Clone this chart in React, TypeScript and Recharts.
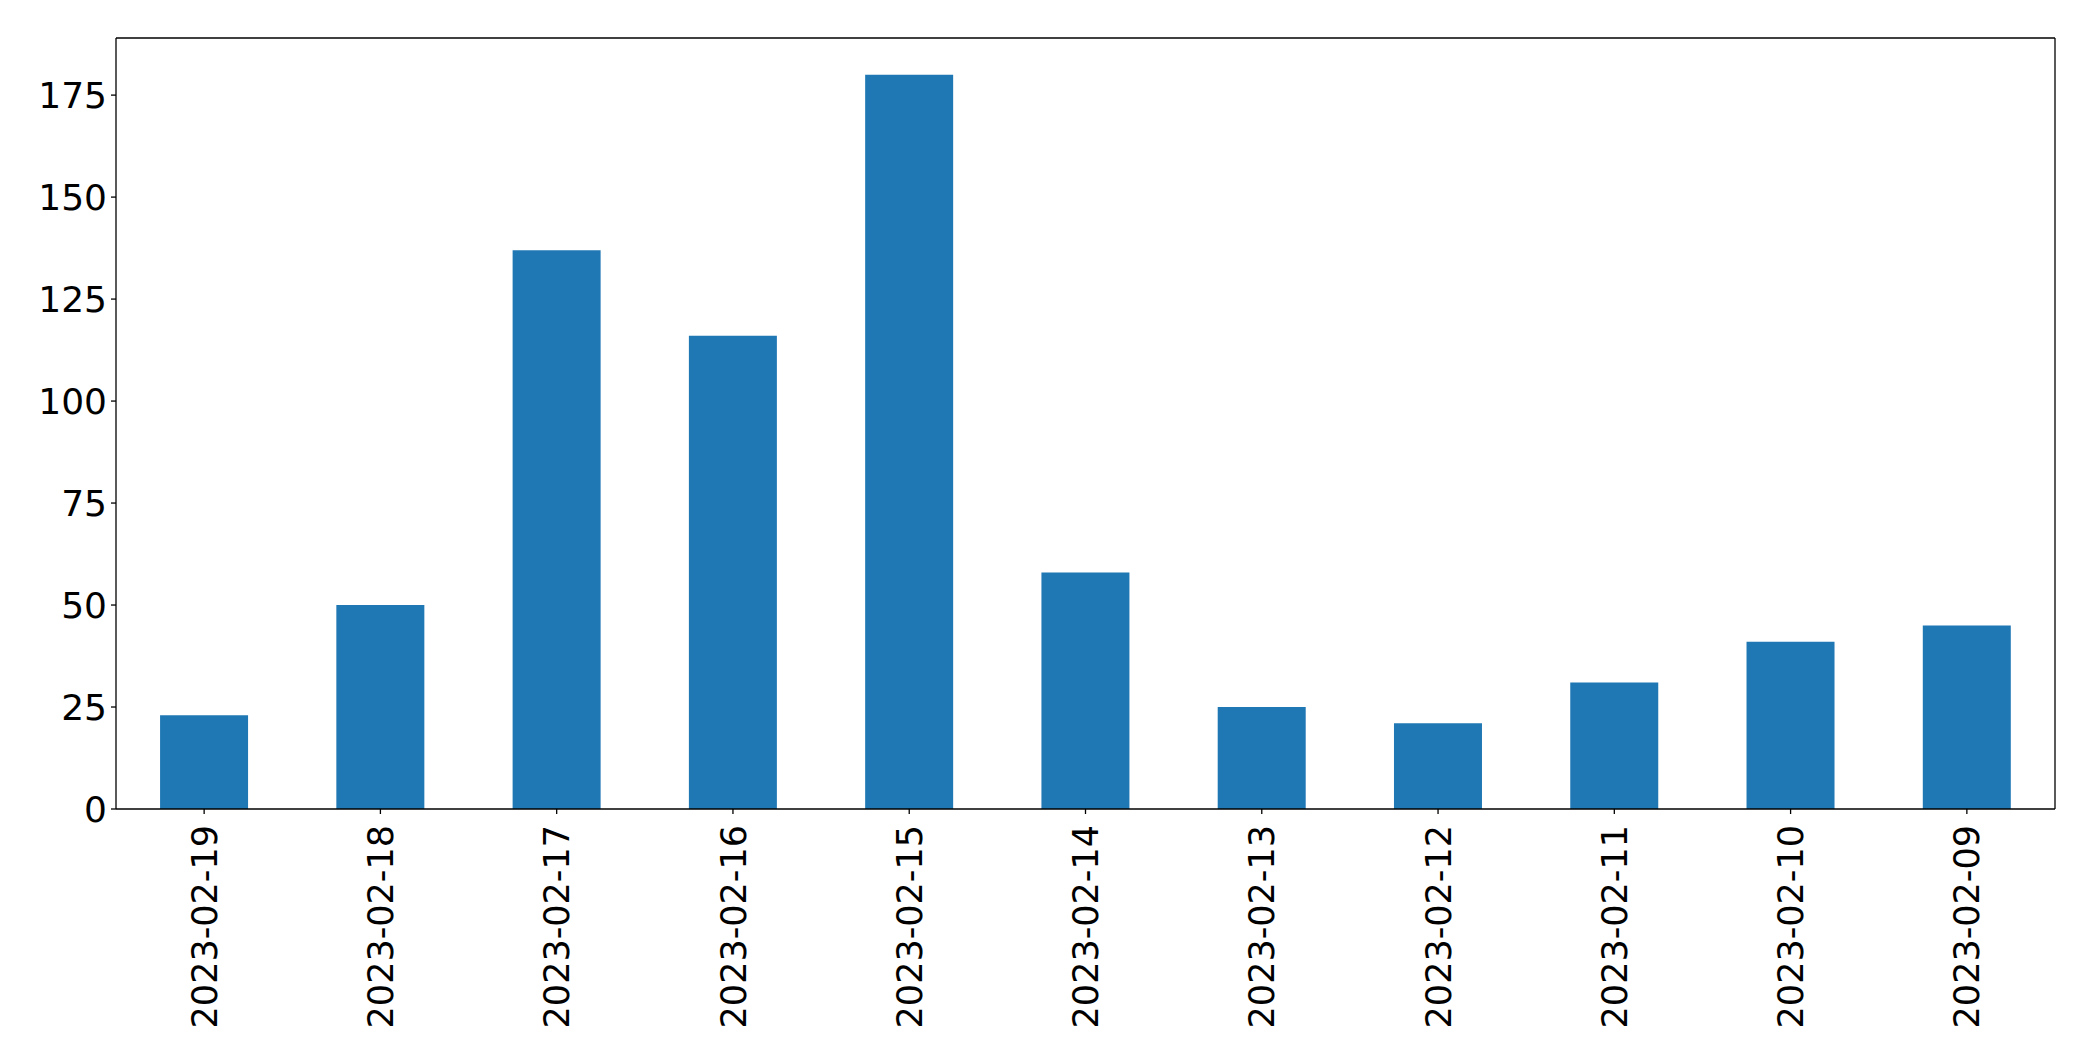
import { BarChart, Bar, XAxis, YAxis, ReferenceLine } from 'recharts';

const dates = [
  '2023-02-19', '2023-02-18', '2023-02-17', '2023-02-16', '2023-02-15', '2023-02-14',
  '2023-02-13', '2023-02-12', '2023-02-11', '2023-02-10', '2023-02-09',
];
const counts = [23, 50, 137, 116, 180, 58, 25, 21, 31, 41, 45];
const yTicks = [0, 25, 50, 75, 100, 125, 150, 175];

const FONT = 'DejaVu Sans';
const Y_MAX = 189;

const data = dates.map((d, i) => ({ date: d, count: counts[i] }));

function DateTick({ x, y, payload }: any) {
  return (
    <g transform={`translate(${x},${y})`}>
      <text
        x={-9}
        y={0}
        dy="0.36em"
        transform="rotate(-90)"
        textAnchor="end"
        fill="#000"
        fontSize={35}
        fontFamily={FONT}
      >
        {payload.value}
      </text>
    </g>
  );
}

export default function App() {
  return (
    <div style={{ position: 'absolute', left: 0, top: 0, background: '#fff' }}>
      <BarChart
        width={2093}
        height={1061}
        data={data}
        margin={{ top: 38, right: 37, bottom: 0, left: 0 }}
        barCategoryGap="25%"
      >
        <XAxis
          dataKey="date"
          height={252}
          interval={0}
          axisLine={{ stroke: '#000', strokeWidth: 1.3 }}
          tickLine={{ stroke: '#000', strokeWidth: 1.3 }}
          tickSize={5}
          tick={<DateTick />}
        />
        {/* right spine */}
        <YAxis
          yAxisId="right"
          orientation="right"
          domain={[0, Y_MAX]}
          tick={false}
          tickLine={false}
          width={1}
          axisLine={{ stroke: '#000', strokeWidth: 1.3 }}
        />
        <YAxis
          domain={[0, Y_MAX]}
          ticks={yTicks}
          width={116}
          axisLine={{ stroke: '#000', strokeWidth: 1.3 }}
          tickLine={{ stroke: '#000', strokeWidth: 1.3 }}
          tickSize={5}
          tickMargin={4}
          tick={{ fill: '#000', fontSize: 36, fontFamily: FONT }}
        />
        {/* top spine */}
        <ReferenceLine y={Y_MAX} stroke="#000" strokeWidth={1.3} />
        <Bar dataKey="count" fill="#1f77b4" isAnimationActive={false} />
      </BarChart>
    </div>
  );
}
